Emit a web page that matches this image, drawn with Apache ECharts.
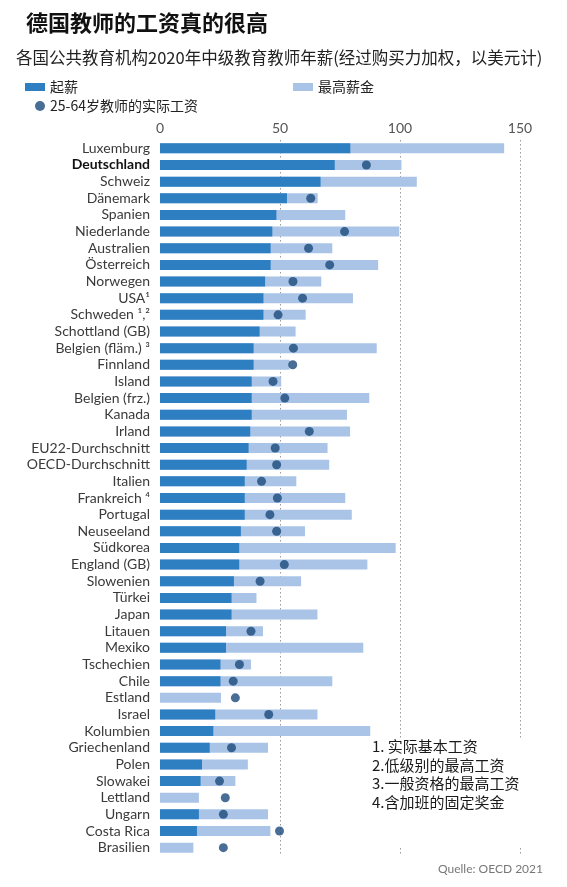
<!DOCTYPE html>
<html>
<head>
<meta charset="utf-8">
<script src="https://cdn.jsdelivr.net/npm/echarts@6/dist/echarts.min.js"></script>
<style>
html,body{margin:0;padding:0;background:#fff;}
#main{width:567px;height:887px;}
</style>
</head>
<body>
<div id="main"></div>
<script>
var categories = ['Luxemburg','Deutschland','Schweiz','Dänemark','Spanien','Niederlande','Australien','Österreich','Norwegen','USA¹','Schweden ¹,²','Schottland (GB)','Belgien (fläm.) ³','Finnland','Island','Belgien (frz.)','Kanada','Irland','EU22-Durchschnitt','OECD-Durchschnitt','Italien','Frankreich ⁴','Portugal','Neuseeland','Südkorea','England (GB)','Slowenien','Türkei','Japan','Litauen','Mexiko','Tschechien','Chile','Estland','Israel','Kolumbien','Griechenland','Polen','Slowakei','Lettland','Ungarn','Costa Rica','Brasilien'];

var startSalary = [79.3,72.8,66.9,52.9,48.5,46.8,46.1,46.1,43.8,43.1,43.1,41.5,39,39,38.2,38.2,38.2,37.6,36.9,36.1,35.3,35.3,35.3,33.7,33,33,30.8,29.8,29.8,27.5,27.5,25.2,25.2,null,23,22.2,20.7,17.5,16.9,null,16.2,15.4,null];

var maxSalary = [143.4,100.6,107,65.7,77.2,99.7,71.8,90.9,67.2,80.4,60.7,56.5,90.3,54,50.5,87.2,77.9,79.2,69.8,70.5,56.8,77.2,79.9,60.4,98.2,86.4,58.8,40.2,65.6,42.9,84.7,37.9,71.8,25.4,65.6,87.6,45,36.6,31.4,16.2,45,46,13.9];

var actualSalary = [null,86,null,62.8,null,76.9,61.9,70.7,55.4,59.4,49.2,null,55.6,55.3,47.1,52,null,62.2,48,48.6,42.3,48.9,45.8,48.6,null,51.8,41.7,null,null,37.9,null,33.1,30.5,31.4,45.3,null,29.8,null,24.8,27.2,26.4,49.8,26.4];

var xTicks = [0, 50, 100, 150];

var footnotes = ['1. 实际基本工资','2.低级别的最高工资','3.一般资格的最高工资','4.含加班的固定奖金'];

var chart = echarts.init(document.getElementById('main'));

var scatterData = [];
for (var i = 0; i < categories.length; i++) {
  if (actualSalary[i] != null) scatterData.push([actualSalary[i], categories[i]]);
}

var cjk = '"Noto Sans CJK SC", "Noto Sans", sans-serif';

var graphics = [
  {type:'rect', left:380, top:738, shape:{width:187, height:110}, style:{fill:'#fff'}, z:100}
];
footnotes.forEach(function(t, k){
  graphics.push({type:'text', left:372, top:739 + k*18.5, z:101,
    style:{text:t, fill:'#1a1a1a', font:'15px ' + cjk}});
});

chart.setOption({
  animation:false,
  backgroundColor:'#fff',
  textStyle:{fontFamily:cjk},
  title:[
    {text:'德国教师的工资真的很高', left:21, top:7, textStyle:{fontSize:22, fontWeight:'bold', color:'#111', fontFamily:cjk}},
    {text:'各国公共教育机构2020年中级教育教师年薪(经过购买力加权，以美元计)', left:11, top:44, textStyle:{fontSize:16.5, fontWeight:'normal', color:'#222', fontFamily:cjk}},
    {text:'Quelle: OECD 2021', right:19, top:858, textStyle:{fontSize:12, fontWeight:'normal', color:'#777', fontFamily:'Lato'}}
  ],
  legend:[
    {data:['起薪'], left:20, top:75, icon:'rect', itemWidth:20, itemHeight:8, itemGap:10, textStyle:{fontSize:14, color:'#222'}},
    {data:['最高薪金'], left:288, top:75, icon:'rect', itemWidth:20, itemHeight:8, textStyle:{fontSize:14, color:'#222'}},
    {data:['25-64岁教师的实际工资'], left:30, top:94, icon:'circle', itemWidth:10, itemHeight:10, textStyle:{fontSize:14, color:'#222'}}
  ],
  grid:{left:160, right:47, top:140, bottom:31, containLabel:false},
  xAxis:{
    type:'value', position:'top', min:xTicks[0], max:xTicks[xTicks.length-1], interval:xTicks[1]-xTicks[0],
    axisLine:{show:false}, axisTick:{show:false},
    axisLabel:{fontSize:14, color:'#555', margin:5, fontFamily:'Lato'},
    splitLine:{show:true, showMinLine:false, lineStyle:{type:[1.5,2.5], color:'#9a9a9a', width:1}}
  },
  yAxis:{
    type:'category', inverse:true, data:categories,
    axisLine:{show:false}, axisTick:{show:false},
    axisLabel:{
      interval:0, fontSize:14, color:'#3a3a3a', margin:10, fontFamily:'Lato',
      formatter:function(v){ return v === 'Deutschland' ? '{b|' + v + '}' : v; },
      rich:{b:{fontSize:14, fontWeight:'bold', color:'#111', fontFamily:'Lato'}}
    }
  },
  series:[
    {name:'最高薪金', type:'bar', data:maxSalary, barWidth:10, barGap:'-100%', itemStyle:{color:'#a9c4e6'}, z:2},
    {name:'起薪', type:'bar', data:startSalary, barWidth:10, barGap:'-100%', itemStyle:{color:'#2e7fc2'}, z:3},
    {name:'25-64岁教师的实际工资', type:'scatter', data:scatterData, symbolSize:9, itemStyle:{color:'#1b4a7a'}, z:5}
  ],
  graphic:graphics
});
</script>
</body>
</html>
